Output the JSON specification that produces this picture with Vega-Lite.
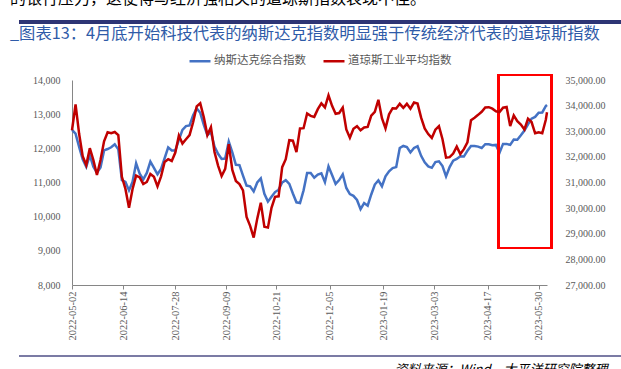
{
  "$schema": "https://vega.github.io/schema/vega-lite/v6.json",
  "width": 475,
  "height": 205,
  "autosize": "none",
  "padding": {"left": 72, "top": 80, "right": 74, "bottom": 84},
  "background": "#ffffff",
  "title": {
    "text": "的银行压力，这使得与经济强相关的道琼斯指数表现不佳。",
    "subtitle": "\u00a0\u00a0_图表13：4月底开始科技代表的纳斯达克指数明显强于传统经济代表的道琼斯指数",
    "anchor": "start",
    "frame": "group",
    "orient": "top",
    "baseline": "alphabetic",
    "font": "Noto Sans CJK SC",
    "fontSize": 16,
    "fontWeight": "normal",
    "color": "#000000",
    "subtitleFont": "Noto Sans CJK SC",
    "subtitleFontSize": 16.3,
    "subtitleColor": "#2F5BA8",
    "subtitlePadding": 19,
    "dx": -62,
    "dy": 73,
    "offset": 38
  },
  "data": {
    "values": [
      {"date": "2022-05-02", "nasdaq": 12540, "dow": 33040},
      {"date": "2022-05-05", "nasdaq": 12430, "dow": 34050},
      {"date": "2022-05-08", "nasdaq": 12040, "dow": 32900},
      {"date": "2022-05-11", "nasdaq": 11680, "dow": 32030},
      {"date": "2022-05-14", "nasdaq": 11460, "dow": 31680},
      {"date": "2022-05-17", "nasdaq": 11800, "dow": 32340},
      {"date": "2022-05-20", "nasdaq": 11460, "dow": 31880},
      {"date": "2022-05-23", "nasdaq": 11290, "dow": 31290},
      {"date": "2022-05-26", "nasdaq": 11440, "dow": 31880},
      {"date": "2022-05-29", "nasdaq": 11940, "dow": 32610},
      {"date": "2022-06-01", "nasdaq": 11980, "dow": 32960},
      {"date": "2022-06-04", "nasdaq": 12030, "dow": 32920},
      {"date": "2022-06-07", "nasdaq": 12120, "dow": 32970},
      {"date": "2022-06-10", "nasdaq": 11970, "dow": 32850},
      {"date": "2022-06-13", "nasdaq": 11070, "dow": 31220},
      {"date": "2022-06-16", "nasdaq": 11020, "dow": 30750},
      {"date": "2022-06-19", "nasdaq": 10770, "dow": 30010},
      {"date": "2022-06-22", "nasdaq": 11020, "dow": 30750},
      {"date": "2022-06-25", "nasdaq": 11560, "dow": 31270},
      {"date": "2022-06-28", "nasdaq": 11260, "dow": 31200},
      {"date": "2022-07-01", "nasdaq": 11090, "dow": 30940},
      {"date": "2022-07-04", "nasdaq": 11280, "dow": 31020},
      {"date": "2022-07-07", "nasdaq": 11610, "dow": 31330},
      {"date": "2022-07-10", "nasdaq": 11430, "dow": 31220},
      {"date": "2022-07-13", "nasdaq": 11240, "dow": 30850},
      {"date": "2022-07-16", "nasdaq": 11400, "dow": 31240},
      {"date": "2022-07-19", "nasdaq": 11710, "dow": 31800},
      {"date": "2022-07-22", "nasdaq": 12030, "dow": 31910},
      {"date": "2022-07-25", "nasdaq": 11940, "dow": 31840},
      {"date": "2022-07-28", "nasdaq": 11940, "dow": 32170},
      {"date": "2022-07-31", "nasdaq": 12250, "dow": 32830},
      {"date": "2022-08-03", "nasdaq": 12540, "dow": 32520},
      {"date": "2022-08-06", "nasdaq": 12650, "dow": 32690},
      {"date": "2022-08-09", "nasdaq": 12670, "dow": 32850},
      {"date": "2022-08-12", "nasdaq": 12970, "dow": 33350},
      {"date": "2022-08-15", "nasdaq": 13170, "dow": 33970},
      {"date": "2022-08-18", "nasdaq": 13040, "dow": 34090},
      {"date": "2022-08-21", "nasdaq": 12690, "dow": 33550},
      {"date": "2022-08-24", "nasdaq": 12390, "dow": 32850},
      {"date": "2022-08-27", "nasdaq": 12480, "dow": 33160},
      {"date": "2022-08-30", "nasdaq": 12050, "dow": 32190},
      {"date": "2022-09-02", "nasdaq": 11840, "dow": 31660},
      {"date": "2022-09-05", "nasdaq": 11690, "dow": 31250},
      {"date": "2022-09-08", "nasdaq": 11700, "dow": 31530},
      {"date": "2022-09-11", "nasdaq": 12200, "dow": 32500},
      {"date": "2022-09-14", "nasdaq": 11880, "dow": 31490},
      {"date": "2022-09-17", "nasdaq": 11520, "dow": 31060},
      {"date": "2022-09-20", "nasdaq": 11510, "dow": 30940},
      {"date": "2022-09-23", "nasdaq": 11200, "dow": 30690},
      {"date": "2022-09-26", "nasdaq": 10910, "dow": 29660},
      {"date": "2022-09-29", "nasdaq": 10890, "dow": 29310},
      {"date": "2022-10-02", "nasdaq": 10740, "dow": 28850},
      {"date": "2022-10-05", "nasdaq": 11000, "dow": 29590},
      {"date": "2022-10-08", "nasdaq": 11120, "dow": 30210},
      {"date": "2022-10-11", "nasdaq": 10670, "dow": 29270},
      {"date": "2022-10-14", "nasdaq": 10440, "dow": 29240},
      {"date": "2022-10-17", "nasdaq": 10580, "dow": 30010},
      {"date": "2022-10-20", "nasdaq": 10720, "dow": 30440},
      {"date": "2022-10-23", "nasdaq": 10790, "dow": 30460},
      {"date": "2022-10-26", "nasdaq": 11000, "dow": 31600},
      {"date": "2022-10-29", "nasdaq": 11070, "dow": 31910},
      {"date": "2022-11-01", "nasdaq": 10960, "dow": 32650},
      {"date": "2022-11-04", "nasdaq": 10680, "dow": 32630},
      {"date": "2022-11-07", "nasdaq": 10420, "dow": 32190},
      {"date": "2022-11-10", "nasdaq": 10400, "dow": 33110},
      {"date": "2022-11-13", "nasdaq": 10770, "dow": 33120},
      {"date": "2022-11-16", "nasdaq": 11280, "dow": 33690},
      {"date": "2022-11-19", "nasdaq": 11280, "dow": 33600},
      {"date": "2022-11-22", "nasdaq": 11140, "dow": 33560},
      {"date": "2022-11-25", "nasdaq": 11230, "dow": 33860},
      {"date": "2022-11-28", "nasdaq": 11270, "dow": 34090},
      {"date": "2022-12-01", "nasdaq": 11010, "dow": 33930},
      {"date": "2022-12-04", "nasdaq": 11470, "dow": 34400},
      {"date": "2022-12-07", "nasdaq": 11220, "dow": 33990},
      {"date": "2022-12-10", "nasdaq": 10960, "dow": 33680},
      {"date": "2022-12-13", "nasdaq": 11070, "dow": 33710},
      {"date": "2022-12-16", "nasdaq": 11240, "dow": 33920},
      {"date": "2022-12-19", "nasdaq": 10840, "dow": 33070},
      {"date": "2022-12-22", "nasdaq": 10660, "dow": 32750},
      {"date": "2022-12-25", "nasdaq": 10610, "dow": 33100},
      {"date": "2022-12-28", "nasdaq": 10490, "dow": 33200},
      {"date": "2022-12-31", "nasdaq": 10220, "dow": 33040},
      {"date": "2023-01-03", "nasdaq": 10400, "dow": 33150},
      {"date": "2023-01-06", "nasdaq": 10320, "dow": 33170},
      {"date": "2023-01-09", "nasdaq": 10650, "dow": 33610},
      {"date": "2023-01-12", "nasdaq": 10940, "dow": 33760},
      {"date": "2023-01-15", "nasdaq": 11060, "dow": 34230},
      {"date": "2023-01-18", "nasdaq": 10890, "dow": 33510},
      {"date": "2023-01-21", "nasdaq": 11180, "dow": 33110},
      {"date": "2023-01-24", "nasdaq": 11330, "dow": 33660},
      {"date": "2023-01-27", "nasdaq": 11420, "dow": 33900},
      {"date": "2023-01-30", "nasdaq": 11450, "dow": 33890},
      {"date": "2023-02-02", "nasdaq": 12010, "dow": 34070},
      {"date": "2023-02-05", "nasdaq": 12070, "dow": 33910},
      {"date": "2023-02-08", "nasdaq": 12040, "dow": 34070},
      {"date": "2023-02-11", "nasdaq": 11880, "dow": 33880},
      {"date": "2023-02-14", "nasdaq": 12010, "dow": 34120},
      {"date": "2023-02-17", "nasdaq": 12060, "dow": 34080},
      {"date": "2023-02-20", "nasdaq": 11780, "dow": 33530},
      {"date": "2023-02-23", "nasdaq": 11590, "dow": 33110},
      {"date": "2023-02-26", "nasdaq": 11470, "dow": 32890},
      {"date": "2023-03-01", "nasdaq": 11430, "dow": 32740},
      {"date": "2023-03-04", "nasdaq": 11600, "dow": 33060},
      {"date": "2023-03-07", "nasdaq": 11620, "dow": 33200},
      {"date": "2023-03-10", "nasdaq": 11480, "dow": 32690},
      {"date": "2023-03-13", "nasdaq": 11180, "dow": 31970},
      {"date": "2023-03-16", "nasdaq": 11450, "dow": 31990},
      {"date": "2023-03-19", "nasdaq": 11640, "dow": 32130},
      {"date": "2023-03-22", "nasdaq": 11690, "dow": 32400},
      {"date": "2023-03-25", "nasdaq": 11770, "dow": 32110},
      {"date": "2023-03-28", "nasdaq": 11760, "dow": 32300},
      {"date": "2023-03-31", "nasdaq": 11930, "dow": 32570},
      {"date": "2023-04-03", "nasdaq": 12070, "dow": 33430},
      {"date": "2023-04-06", "nasdaq": 12070, "dow": 33530},
      {"date": "2023-04-09", "nasdaq": 12050, "dow": 33640},
      {"date": "2023-04-12", "nasdaq": 12010, "dow": 33760},
      {"date": "2023-04-15", "nasdaq": 12120, "dow": 33930},
      {"date": "2023-04-18", "nasdaq": 12120, "dow": 33940},
      {"date": "2023-04-21", "nasdaq": 12090, "dow": 33880},
      {"date": "2023-04-24", "nasdaq": 12100, "dow": 33780},
      {"date": "2023-04-27", "nasdaq": 11870, "dow": 33750},
      {"date": "2023-04-30", "nasdaq": 12130, "dow": 33920},
      {"date": "2023-05-03", "nasdaq": 12130, "dow": 33950},
      {"date": "2023-05-06", "nasdaq": 12100, "dow": 33200},
      {"date": "2023-05-09", "nasdaq": 12260, "dow": 33620},
      {"date": "2023-05-12", "nasdaq": 12250, "dow": 33390},
      {"date": "2023-05-15", "nasdaq": 12380, "dow": 33260},
      {"date": "2023-05-18", "nasdaq": 12520, "dow": 33070},
      {"date": "2023-05-21", "nasdaq": 12700, "dow": 33490},
      {"date": "2023-05-24", "nasdaq": 12870, "dow": 33360},
      {"date": "2023-05-27", "nasdaq": 12920, "dow": 32920},
      {"date": "2023-05-30", "nasdaq": 13040, "dow": 32960},
      {"date": "2023-06-02", "nasdaq": 13050, "dow": 32920},
      {"date": "2023-06-05", "nasdaq": 13240, "dow": 33450},
      {"date": "2023-06-06", "nasdaq": 13270, "dow": 33740}
    ]
  },
  "layer": [
    {
      "layer": [
        {
          "mark": {"type": "line", "strokeWidth": 2.5},
          "encoding": {
            "x": {
              "field": "date",
              "type": "temporal",
              "title": "资料来源：Wind，太平洋研究院整理",
              "scale": {"type": "utc", "domain": [{"year": 2022, "month": 5, "date": 2, "utc": true}, {"year": 2023, "month": 6, "date": 6, "utc": true}]},
              "axis": {
                "values": [
                  {"year": 2022, "month": 5, "date": 2, "utc": true},
                  {"year": 2022, "month": 6, "date": 14, "utc": true},
                  {"year": 2022, "month": 7, "date": 28, "utc": true},
                  {"year": 2022, "month": 9, "date": 9, "utc": true},
                  {"year": 2022, "month": 10, "date": 21, "utc": true},
                  {"year": 2022, "month": 12, "date": 5, "utc": true},
                  {"year": 2023, "month": 1, "date": 19, "utc": true},
                  {"year": 2023, "month": 3, "date": 3, "utc": true},
                  {"year": 2023, "month": 4, "date": 17, "utc": true},
                  {"year": 2023, "month": 5, "date": 30, "utc": true}
                ],
                "format": "%Y-%m-%d",
                "labelAngle": -90,
                "labelFont": "Liberation Serif",
                "labelFontSize": 10.5,
                "labelColor": "#595959",
                "labelPadding": 2,
                "labelOverlap": false,
                "labelFlush": false,
                "tickSize": 4,
                "tickColor": "#868686",
                "domainColor": "#868686",
                "grid": false,
                "titleX": 535,
                "titleY": 88,
                "titleAlign": "right",
                "titleAnchor": null,
                "titleBaseline": "alphabetic",
                "titleFont": "Noto Sans CJK SC",
                "titleFontSize": 13,
                "titleFontStyle": "italic",
                "titleFontWeight": "normal",
                "titleColor": "#000000"
              }
            },
            "y": {
              "field": "nasdaq",
              "type": "quantitative",
              "title": null,
              "scale": {"domain": [8000, 14000]},
              "axis": {
                "orient": "left",
                "values": [8000, 9000, 10000, 11000, 12000, 13000, 14000],
                "format": ",.0f",
                "ticks": false,
                "grid": false,
                "labelPadding": 12,
                "labelFont": "Liberation Serif",
                "labelFontSize": 10,
                "labelColor": "#595959",
                "domainColor": "#868686"
              }
            },
            "color": {
              "datum": "纳斯达克综合指数",
              "type": "nominal",
              "scale": {"domain": ["纳斯达克综合指数", "道琼斯工业平均指数"], "range": ["#4472C4", "#C00000"]},
              "legend": {
                "orient": "none",
                "legendX": 116,
                "legendY": -31,
                "direction": "horizontal",
                "title": null,
                "symbolType": "stroke",
                "symbolSize": 441,
                "symbolStrokeWidth": 2.5,
                "labelFont": "Noto Sans CJK SC",
                "labelFontSize": 11.5,
                "labelColor": "#595959",
                "labelOffset": 2,
                "columnPadding": 12
              }
            }
          }
        },
        {
          "mark": {"type": "rect", "filled": false, "stroke": "#FF0000", "strokeWidth": 2},
          "encoding": {
            "x": {"datum": {"year": 2023, "month": 4, "date": 26, "utc": true}, "type": "temporal"},
            "x2": {"datum": {"year": 2023, "month": 6, "date": 10, "utc": true}},
            "y": {
              "datum": 14150,
              "type": "quantitative",
              "title": null,
              "scale": {"domain": [8000, 14000]},
              "axis": {
                "orient": "left",
                "values": [8000, 9000, 10000, 11000, 12000, 13000, 14000],
                "format": ",.0f",
                "ticks": false,
                "grid": false,
                "labelPadding": 12,
                "labelFont": "Liberation Serif",
                "labelFontSize": 10,
                "labelColor": "#595959",
                "domainColor": "#868686"
              }
            },
            "y2": {"datum": 9080}
          }
        },
        {
          "mark": {"type": "rule", "stroke": "#2E3575", "strokeWidth": 2.5},
          "encoding": {
            "x": {"datum": {"year": 2022, "month": 3, "date": 19, "utc": true}, "type": "temporal"},
            "x2": {"datum": {"year": 2023, "month": 8, "date": 8, "utc": true}},
            "y": {
              "datum": 15700,
              "type": "quantitative",
              "title": null,
              "scale": {"domain": [8000, 14000]},
              "axis": {
                "orient": "left",
                "values": [8000, 9000, 10000, 11000, 12000, 13000, 14000],
                "format": ",.0f",
                "ticks": false,
                "grid": false,
                "labelPadding": 12,
                "labelFont": "Liberation Serif",
                "labelFontSize": 10,
                "labelColor": "#595959",
                "domainColor": "#868686"
              }
            },
            "y2": {"datum": 15700}
          }
        },
        {
          "mark": {"type": "rule", "stroke": "#7B7BA5", "strokeWidth": 1.5},
          "encoding": {
            "x": {"datum": {"year": 2022, "month": 3, "date": 19, "utc": true}, "type": "temporal"},
            "x2": {"datum": {"year": 2023, "month": 8, "date": 8, "utc": true}},
            "y": {
              "datum": 5922,
              "type": "quantitative",
              "title": null,
              "scale": {"domain": [8000, 14000]},
              "axis": {
                "orient": "left",
                "values": [8000, 9000, 10000, 11000, 12000, 13000, 14000],
                "format": ",.0f",
                "ticks": false,
                "grid": false,
                "labelPadding": 12,
                "labelFont": "Liberation Serif",
                "labelFontSize": 10,
                "labelColor": "#595959",
                "domainColor": "#868686"
              }
            }
          }
        }
      ]
    },
    {
      "mark": {"type": "line", "strokeWidth": 2.5},
      "encoding": {
        "x": {"field": "date", "type": "temporal"},
        "y": {
          "field": "dow",
          "type": "quantitative",
          "title": null,
          "scale": {"domain": [27000, 35000]},
          "axis": {
            "orient": "right",
            "values": [27000, 28000, 29000, 30000, 31000, 32000, 33000, 34000, 35000],
            "format": ",.2f",
            "ticks": false,
            "domain": false,
            "grid": false,
            "labelPadding": 18,
            "labelFont": "Liberation Serif",
            "labelFontSize": 10,
            "labelColor": "#595959"
          }
        },
        "color": {"datum": "道琼斯工业平均指数", "type": "nominal"}
      }
    }
  ],
  "resolve": {"scale": {"y": "independent"}, "axis": {"y": "independent"}},
  "config": {
    "view": {"stroke": null},
    "axis": {"grid": false}
  }
}
